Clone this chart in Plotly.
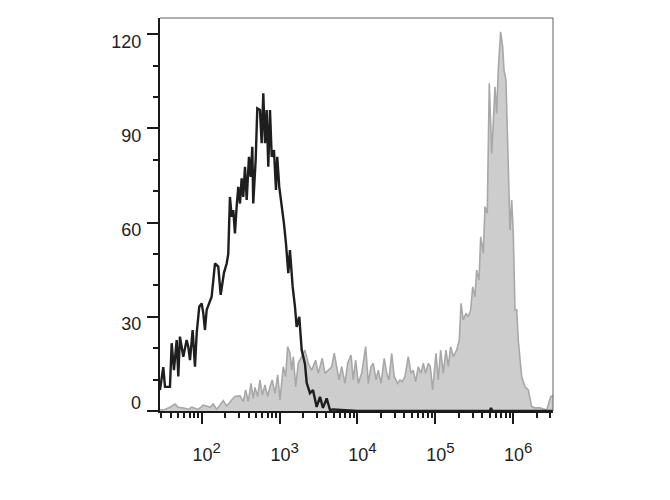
import plotly.graph_objects as go

# ---- data (x given as log10 of fluorescence intensity, y = cell count) ----
BLACK_LOG_X = [1.465, 1.507, 1.529, 1.593, 1.615, 1.644, 1.679, 1.700, 1.721, 1.764,
               1.807, 1.828, 1.850, 1.884, 1.914, 1.936, 1.969, 2.000, 2.021, 2.042,
               2.064, 2.128, 2.171, 2.213, 2.244, 2.286, 2.321, 2.341, 2.363, 2.385,
               2.406, 2.427, 2.449, 2.470, 2.492, 2.513, 2.534, 2.556, 2.578, 2.607,
               2.629, 2.650, 2.662, 2.693, 2.714, 2.748, 2.770, 2.791, 2.813, 2.834,
               2.855, 2.877, 2.899, 2.928, 2.954, 2.970, 2.996, 3.027, 3.056, 3.082,
               3.112, 3.133, 3.168, 3.198, 3.219, 3.253, 3.284, 3.326, 3.348, 3.390,
               3.429, 3.476, 3.519, 3.557, 3.605, 3.647, 3.686, 4.000, 5.000, 5.700,
               5.714, 5.730, 6.000, 6.510]
BLACK_COUNTS = [6.7, 14.0, 7.7, 7.7, 21.6, 13.0, 22.6, 11.0, 23.7, 17.3,
                22.6, 20.5, 16.2, 25.8, 14.1, 24.8, 33.2, 34.3, 31.1, 25.8,
                32.2, 36.4, 47.0, 46.0, 37.0, 44.0, 47.0, 50.0, 68.2, 61.9,
                64.0, 56.6, 65.1, 71.4, 66.1, 74.1, 68.2, 77.8, 67.2, 81.0,
                74.6, 84.2, 66.1, 79.9, 96.4, 95.9, 85.3, 101.2, 85.3, 95.9,
                77.8, 95.9, 81.0, 83.1, 70.4, 81.0, 71.4, 66.1, 59.8, 53.4,
                43.9, 51.3, 39.6, 33.2, 26.8, 30.0, 19.4, 15.0, 9.0, 5.7,
                6.7, 1.3, 4.5, 1.0, 4.0, 0.3, 0.5, 0.0, 0.0, 0.0,
                1.0, 0.0, 0.0, 0.0]

GRAY_LOG_X = [1.465, 1.529, 1.593, 1.657, 1.700, 1.786, 1.828, 1.872, 1.956, 2.021,
              2.064, 2.107, 2.149, 2.193, 2.277, 2.321, 2.385, 2.427, 2.492, 2.534,
              2.565, 2.598, 2.633, 2.662, 2.684, 2.719, 2.748, 2.778, 2.813, 2.847,
              2.877, 2.906, 2.941, 2.976, 3.005, 3.047, 3.078, 3.104, 3.133, 3.155,
              3.176, 3.207, 3.240, 3.326, 3.368, 3.412, 3.463, 3.497, 3.548, 3.583,
              3.625, 3.669, 3.702, 3.733, 3.763, 3.797, 3.840, 3.874, 3.917, 3.946,
              3.977, 4.010, 4.054, 4.105, 4.139, 4.173, 4.203, 4.238, 4.267, 4.302,
              4.344, 4.375, 4.404, 4.439, 4.472, 4.516, 4.546, 4.575, 4.610, 4.652,
              4.687, 4.716, 4.747, 4.780, 4.815, 4.845, 4.875, 4.909, 4.935, 4.965,
              5.008, 5.037, 5.068, 5.101, 5.136, 5.166, 5.196, 5.230, 5.273, 5.307,
              5.329, 5.358, 5.393, 5.422, 5.453, 5.479, 5.508, 5.530, 5.560, 5.582,
              5.615, 5.637, 5.666, 5.692, 5.723, 5.743, 5.765, 5.787, 5.807, 5.838,
              5.864, 5.881, 5.906, 5.936, 5.958, 5.980, 6.000, 6.022, 6.044, 6.064,
              6.108, 6.150, 6.193, 6.236, 6.279, 6.343, 6.429, 6.480, 6.522]
GRAY_COUNTS = [0.3, 0.5, 1.2, 2.2, 1.2, 0.9, 0.5, 1.2, 0.5, 1.9,
               1.6, 1.2, 2.2, 0.5, 3.3, 1.6, 3.5, 4.6, 4.8, 3.0,
               6.7, 3.0, 8.8, 4.0, 7.5, 4.6, 9.9, 5.1, 8.3, 4.6,
               7.7, 9.9, 5.6, 11.5, 3.5, 14.1, 11.0, 20.5, 18.4, 13.0,
               17.3, 7.7, 15.2, 19.4, 15.2, 13.0, 16.2, 12.0, 16.8, 12.0,
               13.0, 14.1, 18.4, 14.1, 9.9, 14.1, 8.8, 15.2, 17.8, 9.9,
               16.2, 8.8, 12.0, 20.5, 8.8, 14.1, 15.2, 9.9, 13.0, 8.8,
               16.8, 12.0, 9.9, 18.4, 11.0, 8.8, 9.9, 9.3, 11.0, 17.3,
               12.0, 13.0, 9.3, 14.1, 12.0, 15.2, 12.0, 15.2, 14.1, 6.7,
               18.4, 9.9, 19.4, 12.0, 19.4, 14.1, 20.5, 17.3, 19.4, 22.6,
               34.3, 29.0, 31.1, 30.0, 32.2, 39.6, 36.4, 44.9, 41.7, 55.5,
               50.2, 65.1, 63.0, 104.4, 82.0, 91.6, 103.3, 94.8, 108.6, 120.8,
               116.0, 108.6, 105.4, 77.8, 57.6, 67.2, 56.6, 32.2, 32.2, 22.6,
               11.0, 7.7, 6.7, 1.4, 1.0, 1.0, 0.3, 4.6, 5.0]

X_TICK_EXP = [2, 3, 4, 5, 6]
Y_TICKS = [0, 30, 60, 90, 120]

FONT = "Liberation Sans, Arial, sans-serif"

fig = go.Figure()
fig.add_trace(go.Scatter(
    x=[10 ** v for v in GRAY_LOG_X], y=GRAY_COUNTS, mode="lines",
    fill="tozeroy", fillcolor="#cdcdcd",
    line=dict(color="#a8a8a8", width=1.6), hoverinfo="skip"))
fig.add_trace(go.Scatter(
    x=[10 ** v for v in BLACK_LOG_X], y=BLACK_COUNTS, mode="lines",
    line=dict(color="#1e1e1e", width=2.4), hoverinfo="skip"))

fig.update_layout(
    width=670, height=500,
    margin=dict(l=152, r=125, t=10, b=97),
    paper_bgcolor="white", plot_bgcolor="white",
    showlegend=False,
    font=dict(family=FONT, size=18, color="#222222"),
)

fig.update_xaxes(
    type="log", range=[1.465, 6.51],
    showgrid=False, zeroline=False,
    showline=True, linecolor="#1a1a1a", linewidth=2,
    ticks="outside", ticklen=11, tickwidth=2, tickcolor="#1a1a1a",
    tickvals=[10 ** e for e in X_TICK_EXP],
    ticktext=["10<sup><span style='font-size:15px'>%d</span></sup>" % e for e in X_TICK_EXP],
    tickfont=dict(family=FONT, size=18, color="#222222"),
    ticklabelstandoff=15, ticklabelshift=5,
    minor=dict(dtick="D1", ticks="outside", ticklen=5, tickwidth=1.5,
               tickcolor="#1a1a1a", showgrid=False),
)

fig.update_yaxes(
    range=[0, 125.2],
    showgrid=False, zeroline=False,
    showline=True, linecolor="#1a1a1a", linewidth=2,
    ticks="outside", ticklen=11, tickwidth=2, tickcolor="#1a1a1a",
    tickvals=Y_TICKS,
    ticktext=["" if v == 0 else str(v) for v in Y_TICKS],
    tickfont=dict(family=FONT, size=18, color="#222222"),
    ticklabelstandoff=2, ticklabelshift=7,
    minor=dict(dtick=10, tick0=0, ticks="outside", ticklen=5, tickwidth=1.5,
               tickcolor="#1a1a1a", showgrid=False),
)

# separate "0" label sitting above its tick
fig.add_annotation(text="0", xref="paper", yref="y", x=0, y=0,
                   xanchor="right", yanchor="middle", xshift=-17, yshift=8,
                   showarrow=False, font=dict(family=FONT, size=18, color="#222222"))

# thin top and right frame lines
fig.add_shape(type="line", xref="paper", yref="paper", x0=0, x1=1, y0=1, y1=1,
              line=dict(color="#606060", width=1))
fig.add_shape(type="line", xref="paper", yref="paper", x0=1, x1=1, y0=0, y1=1,
              line=dict(color="#606060", width=1))

fig.write_html("out.html")
